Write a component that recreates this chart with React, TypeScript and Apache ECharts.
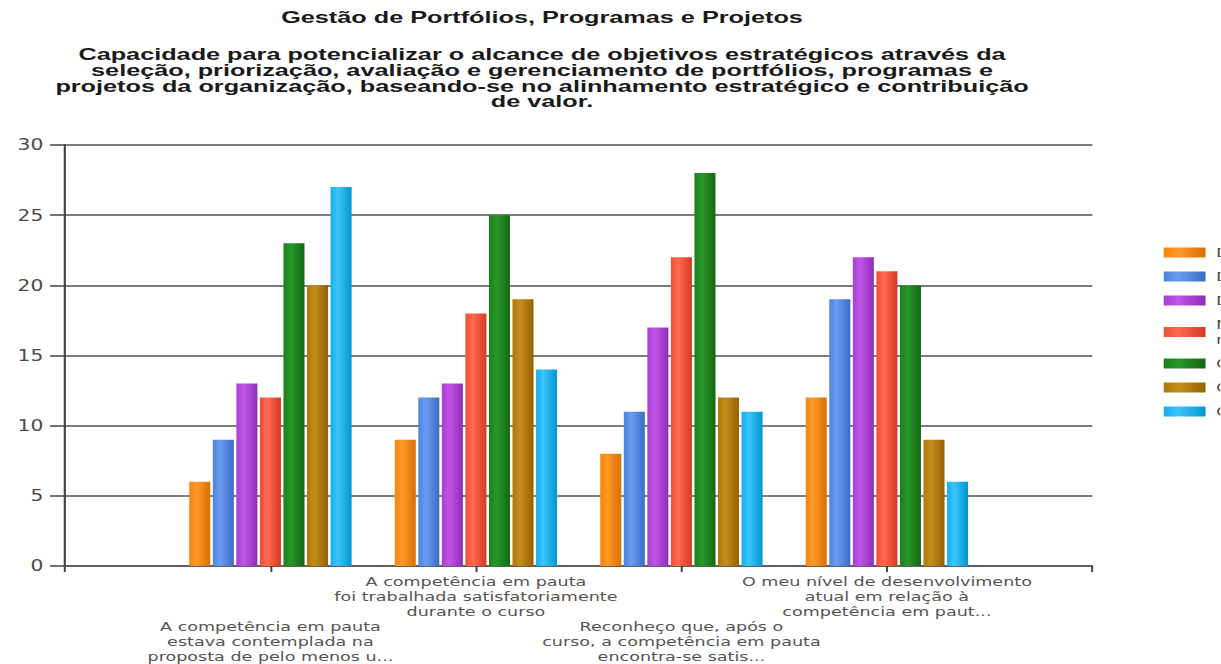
import React, { useEffect, useRef } from "react";
import * as echarts from "echarts";

const titleText = "Gestão de Portfólios, Programas e Projetos";
const subtitleLines = [
  "Capacidade para potencializar o alcance de objetivos estratégicos através da",
  "seleção, priorização, avaliação e gerenciamento de portfólios, programas e",
  "projetos da organização, baseando-se no alinhamento estratégico e contribuição",
  "de valor.",
];

const categories = [
  "A competência em pauta\nestava contemplada na\nproposta de pelo menos u...",
  "A competência em pauta\nfoi trabalhada satisfatoriamente\ndurante o curso",
  "Reconheço que, após o\ncurso, a competência em pauta\nencontra-se satis...",
  "O meu nível de desenvolvimento\natual em relação à\ncompetência em paut...",
];

const seriesNames = [
  "Discordo totalmente",
  "Discordo",
  "Discordo parcialmente",
  "Não concordo\nnem discordo",
  "Concordo parcialmente",
  "Concordo",
  "Concordo totalmente",
];

const values1 = [6, 9, 8, 12];
const values2 = [9, 12, 11, 19];
const values3 = [13, 13, 17, 22];
const values4 = [12, 18, 22, 21];
const values5 = [23, 25, 28, 20];
const values6 = [20, 19, 12, 9];
const values7 = [27, 14, 11, 6];
const seriesValues = [values1, values2, values3, values4, values5, values6, values7];

const colorStops = [
  ["#FF9A2A", "#F5850C", "#D96F00"],
  ["#6A9CF0", "#4C84DE", "#3A6CC4"],
  ["#C055E6", "#A83ED4", "#8E2CB8"],
  ["#FF6A4E", "#EE4E35", "#D43A22"],
  ["#2A962A", "#1B801B", "#106A10"],
  ["#C48E1C", "#AE7808", "#946200"],
  ["#3CC4FA", "#12B0EC", "#0096D0"],
];

const Y_MIN = 0;
const Y_MAX = 30;
const Y_INTERVAL = 5;

const SX = 1.35;
const FULL_W = 1221;
const H = 664;
const W = FULL_W / SX;

export default function App() {
  const ref = useRef<HTMLDivElement>(null);

  useEffect(() => {
    document.body.style.margin = "0";
    if (!ref.current) return;
    const chart = echarts.init(ref.current, null, { renderer: "svg" });

    const axisCats = ["", ...categories, " "];

    const series = seriesValues.map((vals, i) => ({
      name: seriesNames[i],
      type: "bar",
      data: [null, ...vals, null],
      barCategoryGap: "21%",
      barGap: "12%",
      itemStyle: {
        color: new echarts.graphic.LinearGradient(0, 0, 1, 0, [
          { offset: 0, color: colorStops[i][1] },
          { offset: 0.35, color: colorStops[i][0] },
          { offset: 1, color: colorStops[i][2] },
        ]),
      },
    }));

    const option = {
      animation: false,
      backgroundColor: "#ffffff",
      color: colorStops.map((c) => c[1]),
      graphic: [
        {
          type: "text",
          x: 401.5,
          y: 17,
          scaleX: 1.1,
          style: {
            text: titleText,
            font: "bold 17px 'Liberation Sans', Arial, sans-serif",
            fill: "#1a1a1a",
            textAlign: "center",
            textVerticalAlign: "middle",
          },
        },
        {
          type: "text",
          x: 401.5,
          y: 47,
          scaleX: 1.1,
          style: {
            text: subtitleLines.join("\n"),
            font: "bold 17px 'Liberation Sans', Arial, sans-serif",
            lineHeight: 15.6,
            fill: "#1a1a1a",
            textAlign: "center",
            textVerticalAlign: "top",
          },
        },
      ],
      legend: {
        orient: "vertical",
        left: 857,
        top: 240,
        itemWidth: 31,
        itemHeight: 10,
        itemGap: 9,
        icon: "rect",
        data: seriesNames,
        textStyle: {
          fontFamily: "'DejaVu Sans', sans-serif",
          fontSize: 12,
          lineHeight: 15,
          color: "#444",
          padding: [0, 0, 0, 3],
        },
      },
      grid: {
        left: 48.1,
        right: W - 1093 / SX,
        top: 145,
        bottom: 98,
        containLabel: false,
      },
      xAxis: {
        type: "category",
        data: axisCats,
        boundaryGap: false,
        axisLine: { show: true, lineStyle: { color: "#555", width: 1.5 } },
        axisTick: { show: true, length: 6, lineStyle: { color: "#444", width: 1.5 } },
        splitLine: { show: false },
        axisLabel: {
          interval: 0,
          margin: 8,
          color: "#555",
          fontFamily: "'DejaVu Sans', sans-serif",
          fontSize: 13,
          lineHeight: 15,
          align: "center",
          formatter: (value: string, index: number) =>
            index === 1 || index === 3 ? "\n\n\n" + value : value,
        },
      },
      yAxis: {
        type: "value",
        min: Y_MIN,
        max: Y_MAX,
        interval: Y_INTERVAL,
        axisLine: { show: true, lineStyle: { color: "#444", width: 1.6 } },
        axisTick: { show: true, length: 11, lineStyle: { color: "#444", width: 1.5 } },
        splitLine: { show: true, lineStyle: { color: "#505050", width: 1.5 } },
        axisLabel: {
          margin: 16,
          color: "#4a4a4a",
          fontFamily: "'DejaVu Sans', sans-serif",
          fontSize: 15,
        },
      },
      series,
    };

    chart.setOption(option as any);
    return () => chart.dispose();
  }, []);

  return (
    <div style={{ width: FULL_W, height: H, overflow: "hidden", background: "#fff" }}>
      <div
        ref={ref}
        style={{
          width: W,
          height: H,
          transform: `scaleX(${SX})`,
          transformOrigin: "0 0",
        }}
      />
    </div>
  );
}
